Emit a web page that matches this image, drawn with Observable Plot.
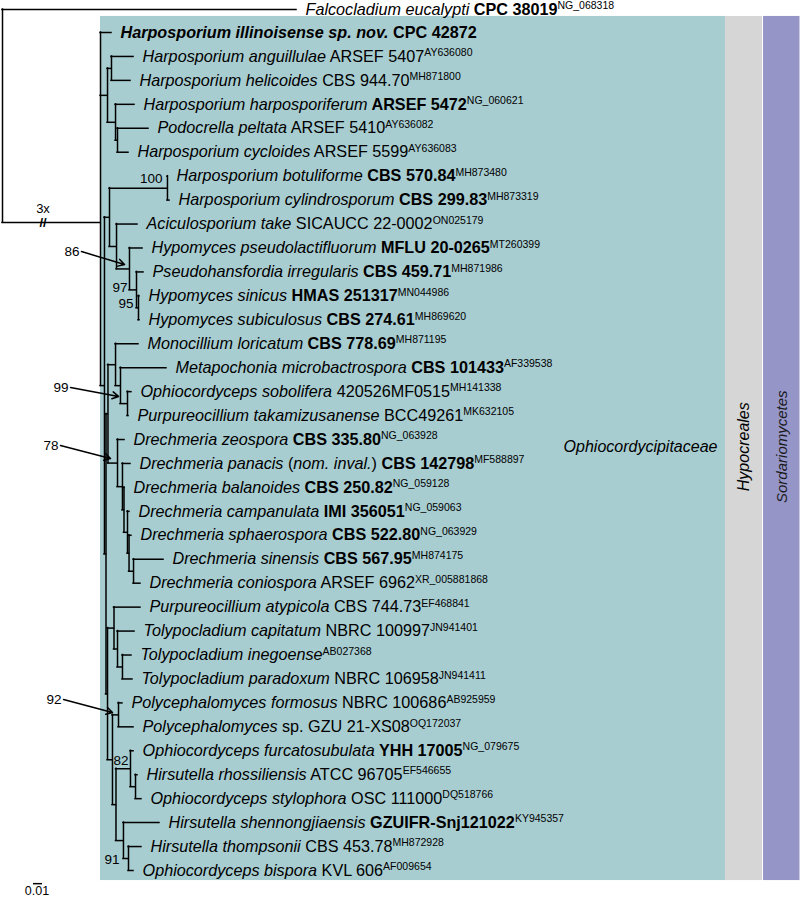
<!DOCTYPE html>
<html><head><meta charset="utf-8">
<script src="https://cdn.jsdelivr.net/npm/d3@7"></script>
<script src="https://cdn.jsdelivr.net/npm/@observablehq/plot@0.6"></script>
<style>body{margin:0;background:#fff} #chart svg{display:block}</style>
</head><body><div id="chart"></div>
<script>
// ---------- DATA ----------
// internal nodes of the tree: id, parent, depth (substitutions per site; outgroup stem drawn 3x shortened)
const nodeId     = ["O","R","A","AH","HP","PC","X","C1","N100","AC","N86","N97","N95","Y","MD","MO","ME","SO","D","D2","D2b","D3","D3b","D4","Z","AT","TC","TI","H","Poly","H2","N82","RS","SH","N91"];
const nodeParent = [null,"O","R","A","A","HP","R","X","C1","C1","AC","N86","N97","X","Y","MD","MO","ME","MD","D","D2","D2b","D3","D3b","Y","Z","AT","TC","Z","H","H","H2","N82","H2","SH"];
const nodeDepth  = [0,0.1089,0.1167,0.1211,0.1256,0.1278,0.1133,0.1189,0.1833,0.1267,0.1411,0.1489,0.1511,0.115,0.1172,0.1256,0.1311,0.1389,0.1278,0.1333,0.135,0.1389,0.1406,0.1456,0.1167,0.1239,0.1278,0.1333,0.1222,0.1289,0.1261,0.1422,0.1478,0.1344,0.14];
const ingroupRootRow = 7.94;   // row at which the outgroup stem meets the ingroup
const outgroupRow = -0.96;

// tips (outgroup first, then ingroup in row order 0..35)
const tipLabel = [
 "i:Falcocladium eucalypti|b: CPC 38019",
 "I:Harposporium illinoisense sp. nov.|b: CPC 42872",
 "i:Harposporium anguillulae|n: ARSEF 5407",
 "i:Harposporium helicoides|n: CBS 944.70",
 "i:Harposporium harposporiferum|b: ARSEF 5472",
 "i:Podocrella peltata|n: ARSEF 5410",
 "i:Harposporium cycloides|n: ARSEF 5599",
 "i:Harposporium botuliforme|b: CBS 570.84",
 "i:Harposporium cylindrosporum|b: CBS 299.83",
 "i:Aciculosporium take|n: SICAUCC 22-0002",
 "i:Hypomyces pseudolactifluorum|b: MFLU 20-0265",
 "i:Pseudohansfordia irregularis|b: CBS 459.71",
 "i:Hypomyces sinicus|b: HMAS 251317",
 "i:Hypomyces subiculosus|b: CBS 274.61",
 "i:Monocillium loricatum|b: CBS 778.69",
 "i:Metapochonia microbactrospora|b: CBS 101433",
 "i:Ophiocordyceps sobolifera|n: 420526MF0515",
 "i:Purpureocillium takamizusanense|n: BCC49261",
 "i:Drechmeria zeospora|b: CBS 335.80",
 "i:Drechmeria panacis|n: (|i:nom. inval.|n:) |b:CBS 142798",
 "i:Drechmeria balanoides|b: CBS 250.82",
 "i:Drechmeria campanulata|b: IMI 356051",
 "i:Drechmeria sphaerospora|b: CBS 522.80",
 "i:Drechmeria sinensis|b: CBS 567.95",
 "i:Drechmeria coniospora|n: ARSEF 6962",
 "i:Purpureocillium atypicola|n: CBS 744.73",
 "i:Tolypocladium capitatum|n: NBRC 100997",
 "i:Tolypocladium inegoense",
 "i:Tolypocladium paradoxum|n: NBRC 106958",
 "i:Polycephalomyces formosus|n: NBRC 100686",
 "i:Polycephalomyces|n: sp. GZU 21-XS08",
 "i:Ophiocordyceps furcatosubulata|b: YHH 17005",
 "i:Hirsutella rhossiliensis|n: ATCC 96705",
 "i:Ophiocordyceps stylophora|n: OSC 111000",
 "i:Hirsutella shennongjiaensis|b: GZUIFR-Snj121022",
 "i:Hirsutella thompsonii|n: CBS 453.78",
 "i:Ophiocordyceps bispora|n: KVL 606"
];
const tipAccession = ["NG_068318","","AY636080","MH871800","NG_060621","AY636082","AY636083","MH873480","MH873319","ON025179","MT260399","MH871986","MN044986","MH869620","MH871195","AF339538","MH141338","MK632105","NG_063928","MF588897","NG_059128","NG_059063","NG_063929","MH874175","XR_005881868","EF468841","JN941401","AB027368","JN941411","AB925959","OQ172037","NG_079675","EF546655","DQ518766","KY945357","MH872928","AF009654"];
const tipParent = ["O","R","AH","AH","HP","PC","PC","N100","N100","AC","N86","N97","N95","N95","MO","ME","SO","SO","D","D2","D2b","D3","D3b","D4","D4","AT","TC","TI","TI","Poly","Poly","N82","RS","RS","SH","N91","N91"];
const tipDepth = [0.3267,0.1211,0.1456,0.1422,0.1467,0.1622,0.14,0.1833,0.1856,0.15,0.1556,0.1567,0.1522,0.1522,0.1511,0.1822,0.1433,0.14,0.1356,0.1422,0.1356,0.1411,0.1433,0.1789,0.1533,0.1533,0.1467,0.1433,0.1444,0.1333,0.1456,0.1456,0.15,0.1544,0.1744,0.1544,0.1456];

// bootstrap support written beside nodes
const supportText  = ["100","97","95","82","91"];
const supportDepth = [0.1778,0.1389,0.1456,0.14,0.13];
const supportRow   = [6.1,10.65,11.32,30.41,34.55];

// support values pointed at with arrows
const arrowText = ["86","99","78","92"];
const arrowFrom = [[0.0878,9.15],[0.0756,14.83],[0.0644,17.25],[0.0678,27.86]];
const arrowTo   = [[0.1356,9.69],[0.1289,15.2],[0.12,17.79],[0.1222,28.4]];

// higher ranks
const cladeName = ["Ophiocordycipitaceae","Hypocreales","Sordariomycetes"];

// ---------- BUILD TREE ----------
const nodes = new Map();
nodeId.forEach((id,i)=>nodes.set(id,{id,parent:nodeParent[i],depth:nodeDepth[i],children:[],tip:false}));
const tips = tipLabel.map((lab,i)=>({id:"t"+i,parent:tipParent[i],depth:tipDepth[i],row:i===0?outgroupRow:i-1,label:lab,acc:tipAccession[i],tip:true,children:[]}));
nodeId.forEach(id=>{const n=nodes.get(id); if(n.parent) nodes.get(n.parent).children.push(n);});
tips.forEach(t=>nodes.get(t.parent).children.push(t));
function rowOf(n){
  if(n.tip) return n.row;
  const r = n.children.map(rowOf);
  n.lo = Math.min(...r); n.hi = Math.max(...r);
  n.row = (n.lo+n.hi)/2;
  return n.row;
}
rowOf(nodes.get("O"));
nodes.get("R").row = ingroupRootRow;
const O = nodes.get("O"); O.hi = ingroupRootRow;

const all = [...nodes.values(), ...tips];
const horiz = all.filter(n=>n.parent).map(n=>({x1:nodes.get(n.parent).depth,x2:n.depth,y:n.row,id:n.id}));
const vert = [...nodes.values()].map(n=>({x:n.depth,y1:n.lo,y2:n.hi}));
const supports = supportText.map((t,i)=>({t,x:supportDepth[i],y:supportRow[i]}));
const arrows = arrowText.map((t,i)=>({t,x1:arrowFrom[i][0],y1:arrowFrom[i][1],x2:arrowTo[i][0],y2:arrowTo[i][1]}));

// ---------- LAYOUT (style) ----------
const FONT = "Liberation Sans, Arial, Helvetica, sans-serif";
const rootDepth = nodes.get("R").depth;
const panelTop = -0.67, panelBottom = 35.42;
const panels = [
  {x1:rootDepth, x2:0.8033, fill:"#a8cdd1"},
  {x1:0.8033, x2:0.8444, fill:"#d6d6d6"},
  {x1:0.8456, x2:0.8861, fill:"#9595c8"}
];
const familyLabel = [{t:cladeName[0], x:0.7944, y:17.3}];
const rankLabels = [
  {t:cladeName[1], x:(0.8033+0.8444)/2, y:17.3},
  {t:cladeName[2], x:(0.8456+0.8861)/2, y:17.3}
];
const stemBreakX = 0.045;

const plainText = d => d.label.split("|").map(s=>s.slice(2)).join("");

const svg = Plot.plot({
  width:800, height:898,
  margin:0, marginTop:0, marginRight:0, marginBottom:0, marginLeft:0,
  x:{domain:[0,0.1], range:[2,92], axis:null},
  y:{domain:[0,35], range:[32,870], axis:null},
  style:{background:"white", fontFamily:FONT, color:"black"},
  marks:[
    Plot.rect(panels,{x1:"x1",x2:"x2",y1:()=>panelTop,y2:()=>panelBottom,fill:d=>d.fill}),
    Plot.ruleY(horiz,{y:"y",x1:"x1",x2:"x2",stroke:"black",strokeWidth:1.5,strokeLinecap:"square"}),
    Plot.ruleX(vert,{x:"x",y1:"y1",y2:"y2",stroke:"black",strokeWidth:1.5,strokeLinecap:"square"}),
    Plot.text(tips,{x:"depth",y:"row",text:plainText,textAnchor:"start",dx:9,fontSize:16.2,fill:"black"}),
    Plot.text(supports,{x:"x",y:"y",text:"t",textAnchor:"end",fontSize:13.5,fill:"black"}),
    Plot.arrow(arrows,{x1:"x1",y1:"y1",x2:"x2",y2:"y2",stroke:"black",strokeWidth:1.5,headLength:7,bend:0}),
    Plot.text(arrows,{x:"x1",y:"y1",text:"t",textAnchor:"end",dx:-2,fontSize:13.5,fill:"black"}),
    Plot.text(familyLabel,{x:"x",y:"y",text:"t",textAnchor:"end",fontSize:16,fontStyle:"italic",fill:"black"}),
    Plot.text(rankLabels.slice(0,1),{x:"x",y:"y",text:"t",rotate:-90,textAnchor:"middle",fontSize:16,fontStyle:"italic",fill:"black"}),
    Plot.text(rankLabels.slice(1),{x:"x",y:"y",text:"t",rotate:-90,textAnchor:"middle",fontSize:15,fontStyle:"italic",fill:"#1a1a1a"}),
    // outgroup stem break
    Plot.text([{t:"3x",y:ingroupRootRow}],{x:()=>stemBreakX,y:"y",text:"t",dy:-14,fontSize:13,fill:"black"}),
    Plot.text([{t:"//",y:ingroupRootRow}],{x:()=>stemBreakX,y:"y",text:"t",fontSize:13,fontWeight:"bold",fill:"black"}),
    // scale bar
    Plot.ruleY([{y:35.55}],{y:"y",x1:()=>0.0344,x2:()=>0.0444,stroke:"black",strokeWidth:1.5}),
    Plot.text([{t:"0.01",y:35.86}],{x:()=>0.0383,y:"y",text:"t",fontSize:12.5,fill:"black"})
  ]
});

// rich text for tip labels: italic names, bold/normal strains, superscript accessions
const NS = "http://www.w3.org/2000/svg";
const byText = new Map(tips.map(d=>[plainText(d), d]));
svg.querySelectorAll("text").forEach(el=>{
  const d = byText.get(el.textContent);
  if (!d) return;
  while (el.firstChild) el.removeChild(el.firstChild);
  el.setAttribute("style","white-space:pre");
  d.label.split("|").forEach(seg=>{
    const st = seg[0], str = seg.slice(2);
    const ts = document.createElementNS(NS,"tspan");
    if (st==="i"||st==="I") ts.setAttribute("font-style","italic");
    if (st==="b"||st==="I") ts.setAttribute("font-weight","bold");
    ts.textContent = str;
    el.appendChild(ts);
  });
  if (d.acc) {
    const ts = document.createElementNS(NS,"tspan");
    ts.setAttribute("font-size","10.5");
    ts.setAttribute("dy","-5.5");
    ts.textContent = d.acc;
    el.appendChild(ts);
  }
});
document.getElementById("chart").appendChild(svg);
</script>
</body></html>
